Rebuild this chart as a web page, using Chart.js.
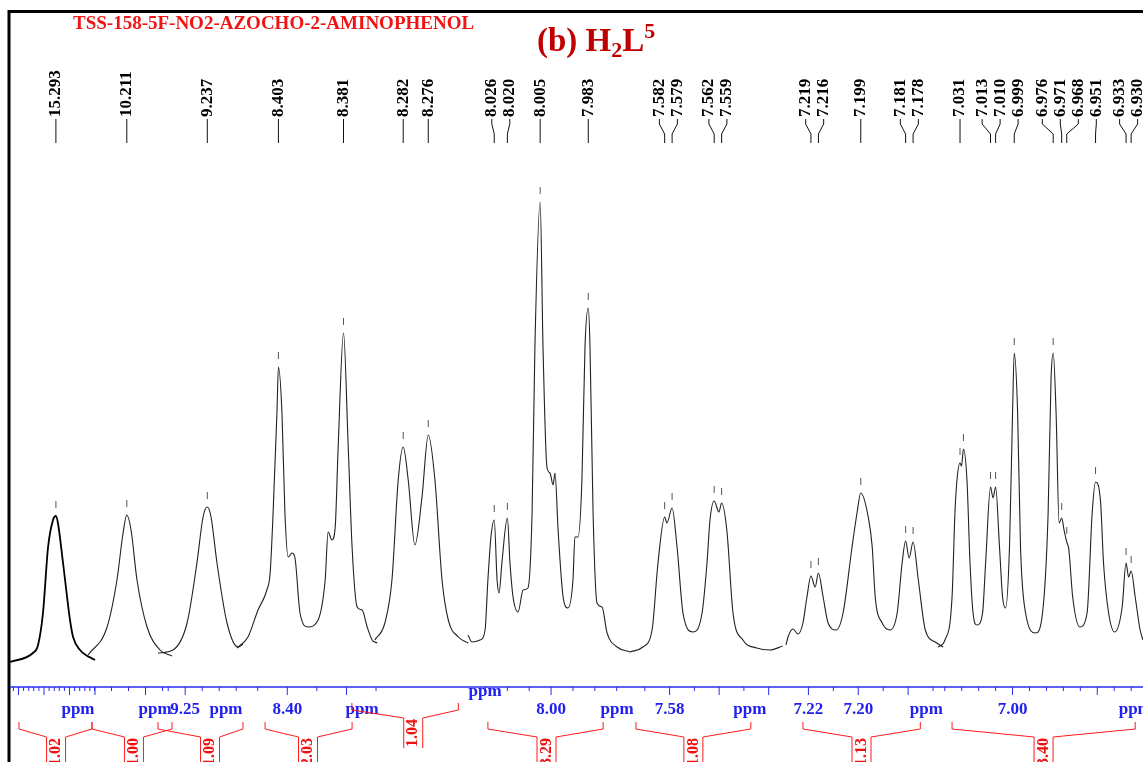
<!DOCTYPE html>
<html>
<head>
<meta charset="utf-8">
<title>H2L5 1H NMR</title>
<script src="https://cdn.jsdelivr.net/npm/chart.js@4.4.1/dist/chart.umd.min.js"></script>
<style>
  html, body { margin: 0; padding: 0; background: #fff; }
  #wrap { width: 1143px; height: 762px; position: relative; }
</style>
</head>
<body>
<div id="wrap"><canvas id="nmr"></canvas></div>
<script>
const sampleName = 'TSS-158-5F-NO2-AZOCHO-2-AMINOPHENOL';

// spectrum pieces, one per expanded window: [ppm, intensity]
const segA = [[15.32,25],[15.3065,34],[15.3035,42],[15.3006,74],[15.2976,140],[15.2947,167],[15.293,171],[15.2918,164],
  [15.2888,124],[15.2847,67],[15.2829,50],[15.2788,37],[15.27,27]];
const segB = [[10.2338,32],[10.2226,60],[10.2168,107],[10.2132,154],[10.211,172],[10.2085,157],[10.205,107],
  [10.1991,60],[10.1915,37],[10.1844,31]];
const segC = [[9.266,34],[9.2572,37],[9.2489,64],[9.2431,124],[9.2395,170],[9.237,180],[9.2348,170],[9.2313,124],
  [9.2254,64],[9.2189,40],[9.216,43]];
const segD = [[8.417,39],[8.4133,50],[8.4099,77],[8.4069,97],[8.4058,114],[8.4048,174],[8.4035,274],[8.403,320],
  [8.4018,274],[8.4008,174],[8.3997,130],[8.3984,134],[8.3974,129],[8.3957,74],[8.393,60],[8.3896,67],[8.3872,107],
  [8.3862,155],[8.3849,147],[8.3838,160],[8.3828,240],[8.381,354],[8.3794,240],[8.3781,140],[8.3764,80],[8.3747,77],
  [8.373,60],[8.3713,47],[8.3696,44]];
const segE = [[8.2888,47],[8.2864,64],[8.2847,107],[8.2832,207],[8.282,240],[8.2808,207],[8.2792,142],[8.2775,190],
  [8.276,252],[8.2744,207],[8.2727,107],[8.2712,67],[8.2688,50],[8.2664,44]];
const segF = [[8.038,52],[8.0362,45],[8.0325,47],[8.0302,57],[8.0289,107],[8.0275,150],[8.026,167],[8.0247,107],
  [8.0238,94],[8.0225,124],[8.020,169],[8.0188,124],[8.0174,90],[8.0151,75],[8.0128,97],[8.0106,99],[8.0087,174],
  [8.0074,340],[8.005,485],[8.0037,340],[8.0019,220],[8.0005,214],[7.9991,202],[7.9982,214],[7.9968,157],[7.9945,90],
  [7.9923,79],[7.99,107],[7.9891,150],[7.9877,150],[7.9859,207],[7.9845,340],[7.983,379],[7.9822,340],[7.9808,174],
  [7.979,84],[7.9767,80],[7.9744,54],[7.9698,40],[7.9639,35]];
const segG = [[7.596,35],[7.5908,40],[7.5871,57],[7.5847,124],[7.582,170],[7.5811,164],[7.579,179],[7.577,140],
  [7.5746,74],[7.5706,55],[7.5669,74],[7.5649,124],[7.5637,167],[7.562,186],[7.5601,175],[7.559,184],[7.5569,157],
  [7.5544,74],[7.5504,47],[7.5448,39],[7.5395,37],[7.5343,41]];
const segH = [[7.229,42],[7.2282,50],[7.2262,58],[7.2242,53],[7.2222,64],[7.2206,90],[7.219,111],[7.2173,100],
  [7.216,114],[7.2141,90],[7.2121,64],[7.2089,57],[7.2061,74],[7.2025,140],[7.2005,174],[7.199,194],[7.196,170],
  [7.1944,140],[7.1932,90],[7.1904,64],[7.1872,57],[7.1844,74],[7.1824,124],[7.181,146],[7.1796,129],[7.178,145],
  [7.1759,107],[7.1731,57],[7.1691,45],[7.1659,40]];
const segI = [[7.044,40],[7.0399,47],[7.0357,90],[7.034,174],[7.0328,207],[7.031,224],[7.0301,221],[7.029,238],
  [7.0269,207],[7.0251,124],[7.0233,74],[7.021,62],[7.0177,74],[7.0159,124],[7.013,200],[7.0115,189],[7.010,200],
  [7.0077,140],[7.0059,90],[7.0041,79],[7.0018,140],[7.0,274],[6.999,334],[6.997,274],[6.9953,140],[6.9923,74],
  [6.9864,54],[6.9823,74],[6.979,174],[6.9773,307],[6.976,334],[6.9743,274],[6.9725,164],[6.971,169],[6.9695,156],
  [6.968,145],[6.9668,138],[6.9645,90],[6.9603,60],[6.956,74],[6.953,174],[6.951,205],[6.948,184],[6.9463,124],
  [6.9433,74],[6.9397,55],[6.9353,80],[6.933,124],[6.9315,110],[6.930,116],[6.9276,90],[6.9247,57],[6.923,47]];
const segments = [segA, segB, segC, segD, segE, segF, segG, segH, segI];

// picked peaks
const peakPpm = [15.293, 10.211, 9.237, 8.403, 8.381, 8.282, 8.276, 8.026, 8.020, 8.005, 7.983,
  7.582, 7.579, 7.562, 7.559, 7.219, 7.216, 7.199, 7.181, 7.178,
  7.031, 7.029, 7.013, 7.010, 6.999, 6.976, 6.971, 6.968, 6.951, 6.933, 6.930];
const peakWin = [0, 1, 2, 3, 3, 4, 4, 5, 5, 5, 5, 6, 6, 6, 6, 7, 7, 7, 7, 7, 8, 8, 8, 8, 8, 8, 8, 8, 8, 8, 8];
const peakHeight = [171, 172, 180, 320, 354, 240, 252, 167, 169, 485, 379, 170, 179, 186, 184, 111, 114, 194, 146, 145,
  224, 238, 200, 200, 334, 334, 169, 145, 205, 124, 116];
const unlabelled = [7.029];

// integrals: range, where the value sits, value
const intWin = [0, 1, 2, 3, 4, 5, 6, 7, 8];
const intFrom = [15.3147, 10.2315, 9.266, 8.4075, 8.2943, 8.0289, 7.5936, 7.2222, 7.0357];
const intTo = [15.2718, 10.1844, 9.216, 8.3781, 8.2688, 7.9762, 7.5472, 7.1751, 6.9276];
const intMid = [15.2929, 10.2068, 9.2354, 8.393, 8.2796, 8.0021, 7.5704, 7.1987, 6.9817];
const intValue = ['1.02', '1.00', '1.09', '2.03', '1.04', '3.29', '1.08', '1.13', '3.40'];
const intLevel = [0, 0, 0, 0, 1, 0, 0, 0, 0];

// axis labels
const axWin = [0, 1, 2, 2, 3, 3, 4, 5, 5, 6, 6, 7, 7, 7, 8, 8];
const axPpm = [15.28, 10.1944, 9.25, 9.226, 8.40, 8.3747, 8.2624, 8.00, 7.9698, 7.58, 7.5476, 7.22, 7.20, 7.1727, 7.00, 6.9276];
const axText = ['ppm', 'ppm', '9.25', 'ppm', '8.40', 'ppm', 'ppm', '8.00', 'ppm', '7.58', 'ppm', '7.22', '7.20', 'ppm', '7.00', 'ppm'];

// layout of the expanded windows along the x axis
const windows = [
  { hi: 15.320, lo: 15.270, x0: 10,  x1: 95,   minor: 0.003, major: 0.015 },
  { hi: 10.235, lo: 10.185, x0: 86,  x1: 171,  minor: 0.01,  major: 0.05 },
  { hi: 9.266,  lo: 9.216,  x0: 158, x1: 243,  minor: 0.01,  major: 0.05 },
  { hi: 8.417,  lo: 8.369,  x0: 237, x1: 379,  minor: 0.01,  major: 0.02 },
  { hi: 8.289,  lo: 8.266,  x0: 374, x1: 470,  minor: 0,     major: 0, labelDy: -18 },
  { hi: 8.038,  lo: 7.963,  x0: 468, x1: 632,  minor: 0.01,  major: 0.05 },
  { hi: 7.596,  lo: 7.533,  x0: 630, x1: 786,  minor: 0.01,  major: 0.02 },
  { hi: 7.229,  lo: 7.166,  x0: 786, x1: 943,  minor: 0.01,  major: 0.02 },
  { hi: 7.044,  lo: 6.923,  x0: 938, x1: 1143, minor: 0.01,  major: 0.05 }
];

function toX(w, ppm) {
  const s = windows[w];
  return s.x0 + (s.hi - ppm) / (s.hi - s.lo) * (s.x1 - s.x0);
}

// push crowded labels apart, keeping each group centred on its peaks
function spread(xs, gap) {
  let groups = xs.map(x => ({ sum: x, n: 1, start: x }));
  let changed = true;
  while (changed) {
    changed = false;
    for (let i = 0; i < groups.length - 1; i++) {
      const a = groups[i], b = groups[i + 1];
      if (a.start + a.n * gap > b.start) {
        const m = { sum: a.sum + b.sum, n: a.n + b.n };
        m.start = m.sum / m.n - (m.n - 1) * gap / 2;
        groups.splice(i, 2, m);
        changed = true;
        break;
      }
    }
  }
  const out = [];
  groups.forEach(g => { for (let k = 0; k < g.n; k++) out.push(g.start + k * gap); });
  return out;
}

const SERIF = '"Liberation Serif", "Times New Roman", serif';

function line(ctx, pts) {
  ctx.beginPath();
  ctx.moveTo(pts[0][0], pts[0][1]);
  for (let i = 1; i < pts.length; i++) ctx.lineTo(pts[i][0], pts[i][1]);
  ctx.stroke();
}

function vText(ctx, text, x, y, align) {
  ctx.save();
  ctx.translate(x, y);
  ctx.rotate(-Math.PI / 2);
  ctx.textAlign = align;
  ctx.textBaseline = 'middle';
  ctx.fillText(text, 0, 0);
  ctx.restore();
}

const decor = {
  id: 'decor',
  afterDatasetsDraw(chart) {
    const ctx = chart.ctx, xs = chart.scales.x, ys = chart.scales.y, area = chart.chartArea;
    const px = (w, ppm) => xs.getPixelForValue(toX(w, ppm));
    const py = v => ys.getPixelForValue(v);
    ctx.save();

    // frame
    ctx.strokeStyle = '#000';
    ctx.lineWidth = 3;
    line(ctx, [[9, 762], [9, 11.5], [1143, 11.5]]);

    // titles
    ctx.fillStyle = '#f01414';
    ctx.font = 'bold 19px ' + SERIF;
    ctx.textAlign = 'left';
    ctx.textBaseline = 'alphabetic';
    ctx.fillText(sampleName, 73, 29);

    ctx.fillStyle = '#c00000';
    let cx = 537;
    const big = 'bold 33px ' + SERIF, small = 'bold 22px ' + SERIF;
    [['(b) H', big, 0], ['2', small, 6], ['L', big, 0], ['5', small, -13]].forEach(([t, f, dy]) => {
      ctx.font = f;
      ctx.fillText(t, cx, 51 + dy);
      cx += ctx.measureText(t).width;
    });

    // peak marks
    ctx.strokeStyle = '#555';
    ctx.lineWidth = 1;
    peakPpm.forEach((p, i) => {
      const x = px(peakWin[i], p), y = py(peakHeight[i]);
      line(ctx, [[x, y - 15], [x, y - 8]]);
    });

    // peak labels with leader lines
    const shown = peakPpm.map((p, i) => i).filter(i => !unlabelled.includes(peakPpm[i]));
    const peakX = shown.map(i => px(peakWin[i], peakPpm[i]));
    const labX = spread(peakX, 18);
    ctx.strokeStyle = '#111';
    ctx.fillStyle = '#000';
    ctx.font = 'bold 17px ' + SERIF;
    shown.forEach((i, k) => {
      const lx = labX[k], pkx = peakX[k];
      if (Math.abs(lx - pkx) < 0.5) line(ctx, [[lx, 119], [lx, 143]]);
      else line(ctx, [[lx, 119], [lx, 124], [pkx, 134], [pkx, 143]]);
      vText(ctx, peakPpm[i].toFixed(3), lx, 117, 'left');
    });

    // ppm axis
    const yAx = area.bottom;
    ctx.strokeStyle = '#2b2bf0';
    ctx.lineWidth = 1.5;
    line(ctx, [[area.left, yAx], [area.right, yAx]]);
    ctx.lineWidth = 1;
    windows.forEach((w, wi) => {
      if (!w.minor) return;
      const k0 = Math.ceil(w.lo / w.minor - 1e-9), k1 = Math.floor(w.hi / w.minor + 1e-9);
      for (let k = k0; k <= k1; k++) {
        const v = k * w.minor;
        const major = Math.abs(v / w.major - Math.round(v / w.major)) < 1e-6;
        const x = px(wi, v);
        line(ctx, [[x, yAx], [x, yAx + (major ? 8 : 4)]]);
      }
    });
    ctx.fillStyle = '#2020f0';
    ctx.font = 'bold 17px ' + SERIF;
    ctx.textAlign = 'center';
    ctx.textBaseline = 'middle';
    axPpm.forEach((p, i) => {
      const dy = windows[axWin[i]].labelDy || 0;
      ctx.fillText(axText[i], px(axWin[i], p), yAx + 23 + dy);
    });

    // integrals
    ctx.strokeStyle = '#ff1a1a';
    ctx.fillStyle = '#ee1111';
    ctx.font = 'bold 16px ' + SERIF;
    ctx.lineWidth = 1;
    intValue.forEach((val, i) => {
      const xl = px(intWin[i], intFrom[i]), xr = px(intWin[i], intTo[i]);
      const c = px(intWin[i], intMid[i]), off = intLevel[i] ? -19 : 0;
      const yt = yAx + 35 + off, ys2 = yt + 7, yi = yt + 15;
      line(ctx, [[xl, yt], [xl, ys2], [c - 9.5, yi], [c - 9.5, yi + 30]]);
      line(ctx, [[xr, yt], [xr, ys2], [c + 9.5, yi], [c + 9.5, yi + 30]]);
      vText(ctx, val, c, yi + 1, 'right');
    });

    ctx.restore();
  }
};

const datasets = segments.map((seg, w) => ({
  data: seg.map(p => ({ x: toX(w, p[0]), y: p[1] })),
  borderColor: w === 0 ? '#000' : '#222',
  borderWidth: w === 0 ? 1.8 : 1.1,
  pointRadius: 0,
  fill: false,
  cubicInterpolationMode: 'monotone'
}));

new Chart(document.getElementById('nmr'), {
  type: 'line',
  data: { datasets: datasets },
  options: {
    responsive: true,
    maintainAspectRatio: false,
    animation: false,
    layout: { padding: { left: 10, right: 0, top: 140, bottom: 75 } },
    scales: {
      x: { type: 'linear', min: 10, max: 1143, display: false },
      y: { min: 0, max: 547, display: false }
    },
    plugins: { legend: { display: false }, tooltip: { enabled: false } }
  },
  plugins: [decor]
});
</script>
</body>
</html>
